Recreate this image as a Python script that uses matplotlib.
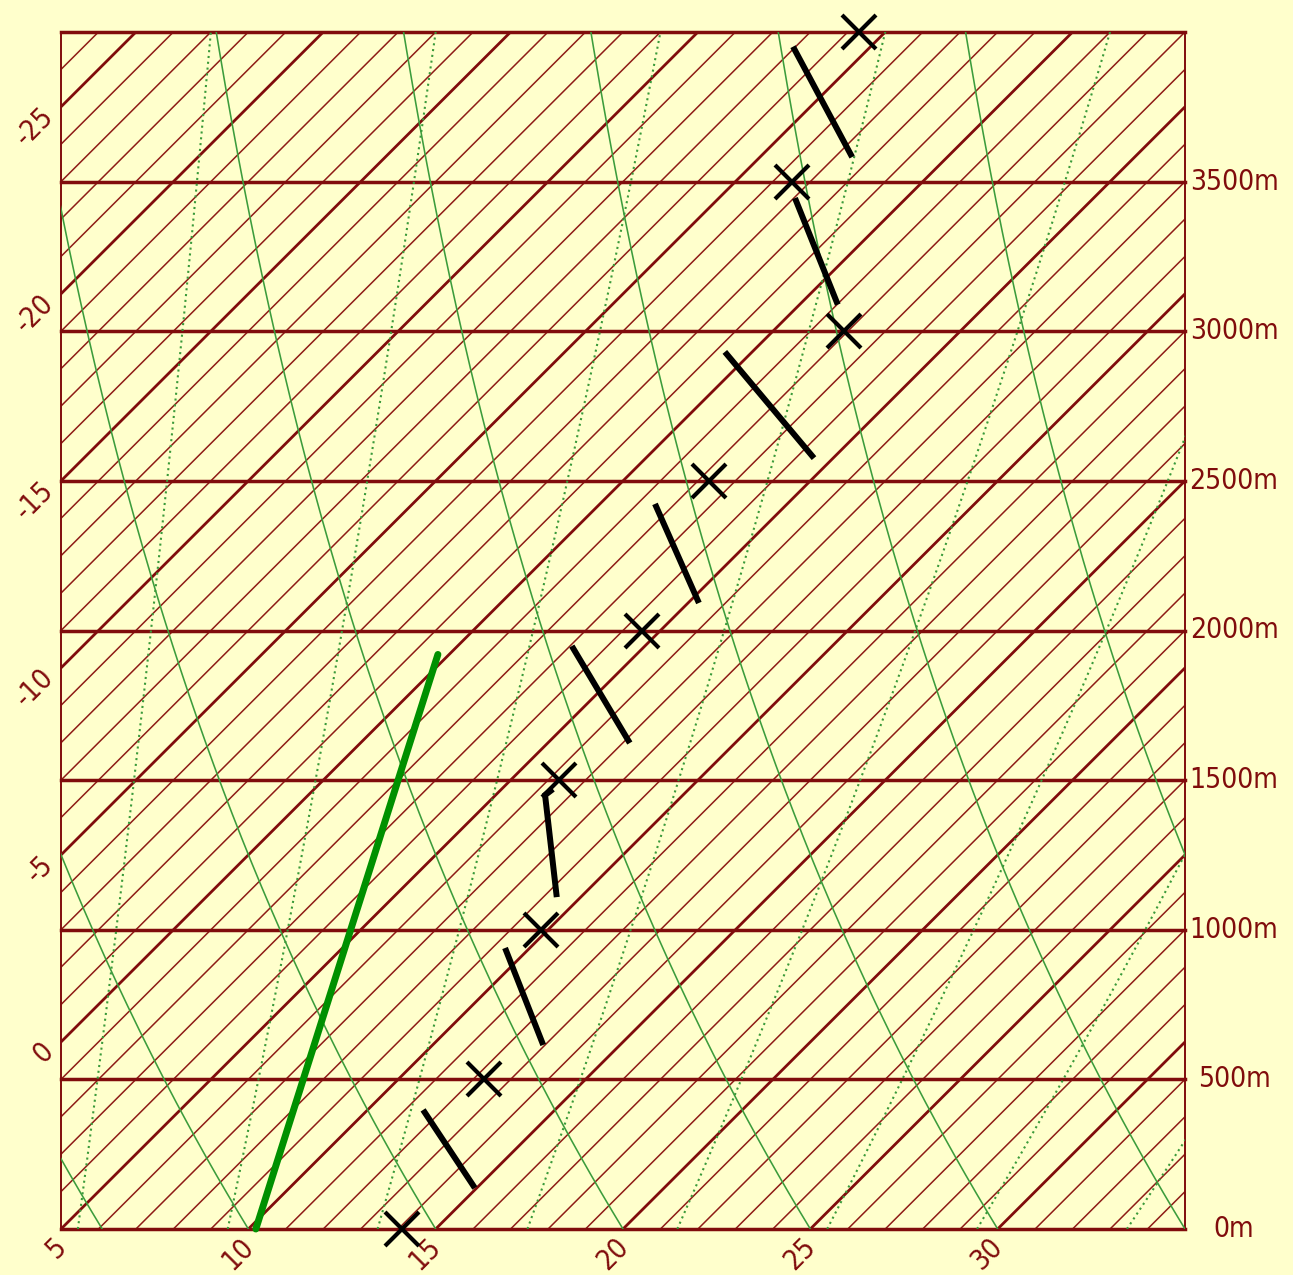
import numpy as np
import matplotlib
matplotlib.use("Agg")
import matplotlib.pyplot as plt
from matplotlib.transforms import Affine2D, blended_transform_factory
from matplotlib.font_manager import FontProperties, findfont
from matplotlib.textpath import TextPath

# ---- chart extent -------------------------------------------------------
T_MIN, T_MAX = 5, 35          # temperature along the ground (deg C)
H_MIN, H_MAX = 0, 4000        # height (m)
SKEW = 0.008                  # isotherm skew, deg C per metre (45 degrees on screen)

# ---- axis labels --------------------------------------------------------
height_levels = [0, 500, 1000, 1500, 2000, 2500, 3000, 3500, 4000]
height_labels = ["0m", "500m", "1000m", "1500m", "2000m", "2500m", "3000m", "3500m"]
bottom_isotherms = [5, 10, 15, 20, 25, 30]
left_isotherms = [-25, -20, -15, -10, -5, 0]

# ---- sounding: temperature at each level (X marks) ----------------------
profile_h = [0, 500, 1000, 1500, 2000, 2500, 3000, 3500, 4000]
profile_t = [14.1, 12.3, 9.8, 6.3, 4.5, 2.3, 1.9, -3.5, -5.7]

# ---- layer bars between the levels (height, temperature) ----------------
layer_h = [[137, 398], [615, 939], [1109, 1450, 1470], [1624, 1948],
           [2092, 2423], [2576, 2931], [3089, 3445], [3582, 3951]]
layer_t = [[14.95, 11.48], [12.95, 9.34], [9.36, 6.32, 6.37], [7.19, 3.05],
           [5.29, 1.47], [4.49, -0.73], [1.02, -2.97], [-2.54, -7.07]]

# ---- green ascent line --------------------------------------------------
ascent_h = [0, 1920]
ascent_t = [10.2, -0.3]

# ---- background families ------------------------------------------------
adiabat_theta = [6.1, 10, 15, 20, 25, 30, 35, 40]      # ground value, deg C
mixing_ground = [5.45, 9.45, 13.45, 17.45, 21.45, 25.45, 29.45, 33.45]
mixing_top = [9, 15, 21, 27, 33, 39, 45, 51]            # skewed value at 4000 m

BG = "#FFFFCC"
BROWN = "#800c0c"
BROWN_THIN = "#8e1c16"
GREEN_THIN = "#3c9c3c"
GREEN_DOT = "#3a9a3a"
GREEN_THICK = "#009000"


def narrow_font():
    """Pick a narrow sans face if one is installed, else plain DejaVu Sans."""
    candidates = [
        dict(family="Liberation Sans Narrow"),
        dict(family="DejaVu Sans", stretch="condensed"),
        dict(family="Roboto Condensed"),
        dict(family="Roboto", stretch="condensed"),
        dict(family="Noto Sans", stretch="condensed"),
        dict(family="Open Sans", stretch="condensed"),
    ]
    for c in candidates:
        fp = FontProperties(**c)
        try:
            path = findfont(fp, fallback_to_default=False)
        except Exception:
            continue
        low = path.lower()
        if "narrow" in low or "condensed" in low:
            return FontProperties(fname=path)
    return FontProperties(family="DejaVu Sans")


label_font = narrow_font()
# size the labels so that "3500m" is about 85 px wide
_w = TextPath((0, 0), "3500m", size=100, prop=label_font).get_extents().width
LABEL_SIZE = min(22.0, 100 * (85 * 0.72) / _w)
label_font.set_size(LABEL_SIZE)

W, H = 1293, 1275
fig = plt.figure(figsize=(W / 100, H / 100), dpi=100, facecolor=BG)
ax = fig.add_axes([61 / W, 46 / H, 1124 / W, 1197 / H])
ax.set_facecolor(BG)
ax.set_xlim(T_MIN, T_MAX)
ax.set_ylim(H_MIN, H_MAX)
ax.set_xticks([])
ax.set_yticks([])
for side in ("top", "bottom"):
    ax.spines[side].set_visible(False)
for side in ("left", "right"):
    ax.spines[side].set_color(BROWN)
    ax.spines[side].set_linewidth(1.4)

# (temperature, height) -> skewed chart coordinates
skew_tr = Affine2D(np.array([[1.0, SKEW, 0.0], [0.0, 1.0, 0.0], [0.0, 0.0, 1.0]])) + ax.transData

# isotherms: thin every degree, heavy every 5 degrees
t_lo = int(np.floor(T_MIN - SKEW * H_MAX)) - 1
for t in range(t_lo, T_MAX + 2):
    heavy = t % 5 == 0
    ax.plot([t, t], [H_MIN, H_MAX], transform=skew_tr,
            color=BROWN if heavy else BROWN_THIN,
            lw=2.0 if heavy else 1.1,
            solid_capstyle="butt", zorder=2 if heavy else 1)

# height lines
for h in height_levels:
    ax.axhline(h, color=BROWN, lw=2.5, zorder=3, clip_on=False)

hh = np.linspace(H_MIN, H_MAX, 200)

# dry adiabats
A_AD, L_AD = 14.86, 3050.0
for th in adiabat_theta:
    s = th - A_AD * (1 - np.exp(-hh / L_AD))
    ax.plot(s - SKEW * hh, hh, transform=skew_tr, color=GREEN_THIN,
            lw=1.15, zorder=4)

# mixing-ratio lines
L_MX = 10000.0
g = (1 - np.exp(-hh / L_MX)) / (1 - np.exp(-H_MAX / L_MX))
for s0, s1 in zip(mixing_ground, mixing_top):
    s = s0 + (s1 - s0) * g
    ax.plot(s - SKEW * hh, hh, transform=skew_tr, color=GREEN_DOT,
            lw=1.5, ls=(0, (1.0, 1.8)), zorder=4)

# green ascent line
ax.plot(ascent_t, ascent_h, transform=skew_tr, color=GREEN_THICK, lw=5.0,
        solid_capstyle="round", zorder=6, clip_on=False)

# layer bars
for lh, lt in zip(layer_h, layer_t):
    ax.plot(lt, lh, transform=skew_tr, color="black", lw=4.3,
            solid_capstyle="butt", solid_joinstyle="miter", zorder=7)

# level temperatures
ax.plot(profile_t, profile_h, transform=skew_tr, ls="none", marker="x",
        ms=24, mew=3.0, color="black", zorder=8, clip_on=False)

# height labels on the right
lab_tr = blended_transform_factory(ax.transAxes, ax.transData)
for h, lab in zip(height_levels, height_labels):
    ax.text((1234 - 61) / 1124, h, lab, transform=lab_tr, ha="center",
            va="center", fontproperties=label_font, color=BROWN, clip_on=False)

# isotherm labels along the ground
for t in bottom_isotherms:
    ax.annotate(str(t), xy=(t, 0), xycoords=skew_tr, xytext=(0.5, -10.0),
                textcoords="offset points", ha="right", va="center",
                rotation=45, rotation_mode="anchor", fontproperties=label_font,
                color=BROWN, annotation_clip=False)

# isotherm labels along the left edge
for t in left_isotherms:
    h_cross = (T_MIN - t) / SKEW
    ax.annotate(str(t), xy=(t, h_cross), xycoords=skew_tr, xytext=(-8.5, -4.0),
                textcoords="offset points", ha="right", va="center",
                rotation=45, rotation_mode="anchor", fontproperties=label_font,
                color=BROWN, annotation_clip=False)

fig.savefig("out.png", dpi=100, facecolor=BG)
